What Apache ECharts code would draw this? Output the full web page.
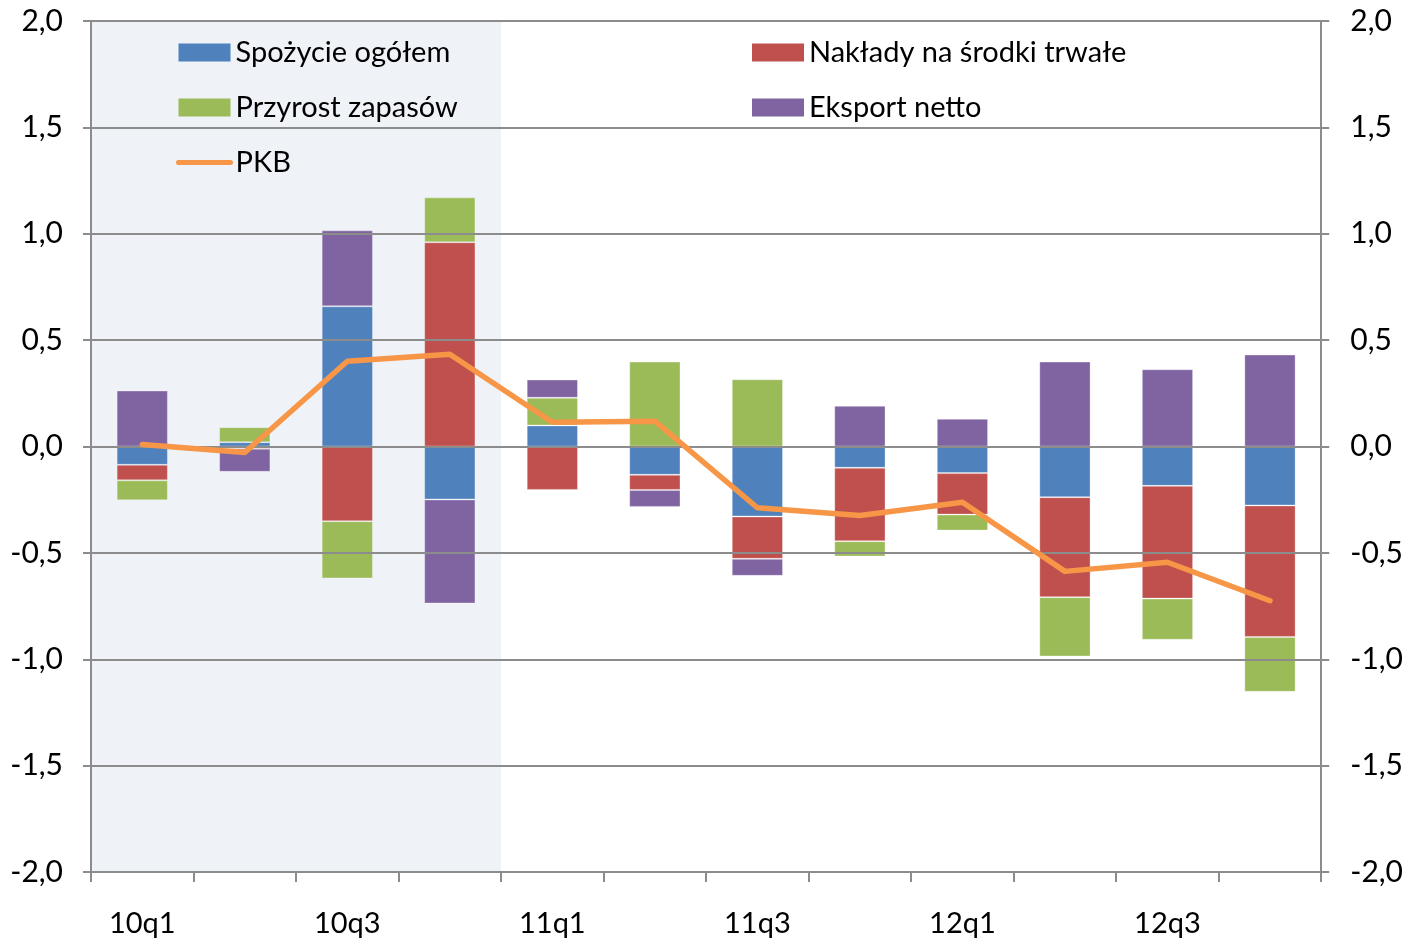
<!DOCTYPE html>
<html>
<head>
<meta charset="utf-8">
<script src="https://cdn.jsdelivr.net/npm/echarts@6/dist/echarts.min.js"></script>
<style>html,body{margin:0;padding:0;background:#fff}#c{width:1406px;height:939px}</style>
</head>
<body>
<div id="c"></div>
<script>
const categories = ['10q1','10q2','10q3','10q4','11q1','11q2','11q3','11q4','12q1','12q2','12q3','12q4'];
const spozycie = [-0.086, 0.020, 0.659, -0.249, 0.099, -0.133, -0.329, -0.100, -0.125, -0.238, -0.185, -0.277];
const naklady  = [-0.073, -0.010, -0.351, 0.960, -0.204, -0.071, -0.199, -0.345, -0.195, -0.470, -0.530, -0.618];
const zapasy   = [-0.094, 0.071, -0.269, 0.211, 0.130, 0.399, 0.316, -0.072, -0.075, -0.279, -0.193, -0.258];
const eksport  = [0.263, -0.109, 0.357, -0.489, 0.086, -0.080, -0.080, 0.191, 0.130, 0.399, 0.363, 0.432];
const pkb      = [0.009, -0.028, 0.401, 0.434, 0.114, 0.119, -0.288, -0.324, -0.262, -0.587, -0.544, -0.725];
const shadedRange = [0, 4]; // first four quarters shaded
const yTicks = {min: -2, max: 2, interval: 0.5};

const FONT = 'Lato';
const GRID_C = '#8C8C8C';
const fmt = v => v.toFixed(1).replace('.', ',');
const chart = echarts.init(document.getElementById('c'));
const barBase = (name, data, color) => ({
  name, type: 'bar', stack: 'total', data, barWidth: '50%', z: 2,
  itemStyle: {color, borderColor: 'rgba(255,255,255,0.3)', borderWidth: 1},
  emphasis: {disabled: true}
});
const legendText = {fontSize: 29, color: '#000', fontFamily: FONT, lineHeight: 29};
chart.setOption({
  animation: false,
  textStyle: {fontFamily: FONT},
  grid: {left: 91, right: 83, top: 21, bottom: 67, containLabel: false},
  legend: [
    {left: 171, top: 33, orient: 'vertical', itemWidth: 52, itemHeight: 18, itemGap: 26, itemTextGap: 4,
     itemStyle: {borderWidth: 0},
     data: [{name: 'Spożycie ogółem', icon: 'rect'}, {name: 'Przyrost zapasów', icon: 'rect'},
            {name: 'PKB', itemStyle: {opacity: 0}, lineStyle: {width: 5, cap: 'round'}}],
     textStyle: legendText},
    {left: 747, top: 33, orient: 'vertical', itemWidth: 52, itemHeight: 18, itemGap: 26, itemTextGap: 4,
     itemStyle: {borderWidth: 0},
     data: [{name: 'Nakłady na środki trwałe', icon: 'rect'}, {name: 'Eksport netto', icon: 'rect'}],
     textStyle: legendText}
  ],
  xAxis: [
    {type: 'category', data: categories, position: 'bottom',
     axisLine: {onZero: false, lineStyle: {color: GRID_C, width: 2}},
     axisTick: {show: true, interval: 0, length: 10, lineStyle: {color: GRID_C, width: 2}},
     axisLabel: {interval: 1, margin: 37, fontSize: 29, color: '#000', fontFamily: FONT},
     splitLine: {show: false}},
    {type: 'value', min: 0, max: 12, show: false}
  ],
  yAxis: [
    {type: 'value', min: yTicks.min, max: yTicks.max, interval: yTicks.interval, position: 'left', z: 5,
     axisLine: {show: true, lineStyle: {color: GRID_C, width: 2}},
     axisTick: {show: true, length: 8, lineStyle: {color: GRID_C, width: 2}},
     axisLabel: {formatter: fmt, fontSize: 30, color: '#000', margin: 28, fontFamily: FONT},
     splitLine: {show: true, lineStyle: {color: GRID_C, width: 2}}},
    {type: 'value', min: yTicks.min, max: yTicks.max, interval: yTicks.interval, position: 'right', z: 5,
     axisLine: {show: true, lineStyle: {color: GRID_C, width: 2}},
     axisTick: {show: true, length: 8, lineStyle: {color: GRID_C, width: 2}},
     axisLabel: {formatter: fmt, fontSize: 30, color: '#000', margin: 29, fontFamily: FONT},
     splitLine: {show: false}}
  ],
  series: [
    {type: 'line', xAxisIndex: 1, yAxisIndex: 0, z: 0, silent: true, symbol: 'none',
     data: [[shadedRange[0], yTicks.min], [shadedRange[1], yTicks.min]],
     lineStyle: {opacity: 0},
     markArea: {silent: true, z: 0, itemStyle: {color: '#EFF3F8'},
       data: [[{xAxis: shadedRange[0]}, {xAxis: shadedRange[1]}]]}},
    barBase('Spożycie ogółem', spozycie, '#4F81BD'),
    barBase('Nakłady na środki trwałe', naklady, '#C0504D'),
    barBase('Przyrost zapasów', zapasy, '#9BBB59'),
    barBase('Eksport netto', eksport, '#8064A2'),
    {name: 'PKB', type: 'line', data: pkb, symbol: 'none', z: 10,
     lineStyle: {color: '#F79646', width: 5.5, cap: 'round', join: 'round'},
     itemStyle: {color: '#F79646'}, emphasis: {disabled: true}}
  ]
});
</script>
</body>
</html>
